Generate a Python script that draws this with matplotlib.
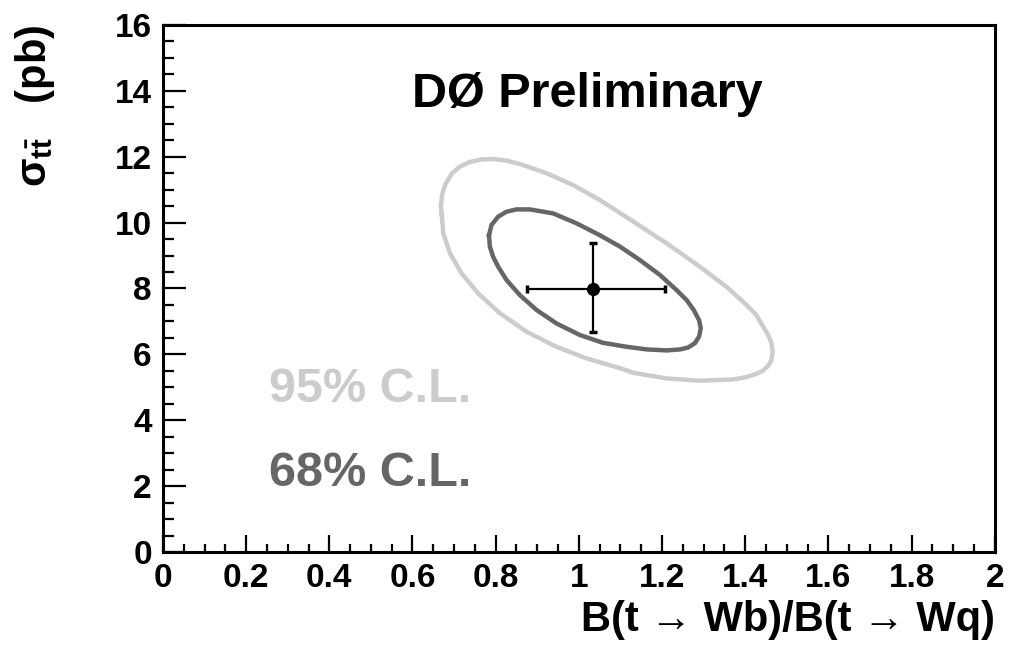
import matplotlib
matplotlib.use('Agg')
import matplotlib.pyplot as plt
from matplotlib.ticker import MultipleLocator

plt.rcParams['font.family'] = ['Liberation Sans', 'DejaVu Sans']
plt.rcParams['font.weight'] = 'bold'
plt.rcParams['mathtext.fontset'] = 'custom'
plt.rcParams['mathtext.rm'] = 'Liberation Sans:bold'
plt.rcParams['mathtext.it'] = 'Liberation Sans:bold'
plt.rcParams['mathtext.bf'] = 'Liberation Sans:bold'

# 68% C.L. contour
c68_x = [0.784, 0.786, 0.794, 0.806, 0.826, 0.858, 0.898, 0.946, 1.002, 1.058,
         1.115, 1.163, 1.211, 1.243, 1.263, 1.279, 1.289, 1.293, 1.289, 1.276,
         1.259, 1.235, 1.195, 1.147, 1.099, 1.050, 0.994, 0.938, 0.882, 0.850,
         0.826, 0.806, 0.790]
c68_y = [9.62, 9.27, 8.96, 8.66, 8.26, 7.80, 7.35, 6.94, 6.59, 6.35,
         6.23, 6.15, 6.12, 6.15, 6.21, 6.34, 6.54, 6.79, 7.04, 7.35,
         7.65, 7.95, 8.41, 8.86, 9.27, 9.62, 9.98, 10.28, 10.40, 10.40,
         10.33, 10.18, 9.93]

# 95% C.L. contour
c95_x = [0.670, 0.674, 0.690, 0.718, 0.758, 0.810, 0.874, 0.946, 1.018, 1.099,
         1.131, 1.211, 1.291, 1.371, 1.399, 1.423, 1.442, 1.455, 1.463, 1.466,
         1.463, 1.455, 1.443, 1.427, 1.403, 1.355, 1.291, 1.211, 1.131, 1.050,
         0.986, 0.922, 0.858, 0.826, 0.794, 0.766, 0.738, 0.714, 0.694, 0.680,
         0.672, 0.668]
c95_y = [10.28, 9.68, 9.07, 8.46, 7.85, 7.25, 6.69, 6.23, 5.88, 5.58,
         5.44, 5.27, 5.20, 5.24, 5.30, 5.39, 5.50, 5.65, 5.83, 6.08,
         6.34, 6.59, 6.84, 7.19, 7.50, 8.05, 8.66, 9.37, 10.03, 10.69,
         11.14, 11.50, 11.78, 11.88, 11.93, 11.92, 11.84, 11.70, 11.48, 11.19,
         10.89, 10.53]

# central value with errors
best_x = 1.034
best_y = 7.97
x_err_lo, x_err_hi = 0.159, 0.173
y_err_lo, y_err_hi = 1.29, 1.42

light = '#cccccc'
dark = '#666666'

fig = plt.figure(figsize=(10.12, 6.56), dpi=100)
ax = fig.add_axes([0.161, 0.1585, 0.822, 0.8035])

ax.plot(c95_x + c95_x[:1], c95_y + c95_y[:1], color=light, lw=3.2, solid_joinstyle='round')
ax.plot(c68_x + c68_x[:1], c68_y + c68_y[:1], color=dark, lw=3.2, solid_joinstyle='round')

ax.errorbar([best_x], [best_y], xerr=[[x_err_lo], [x_err_hi]], yerr=[[y_err_lo], [y_err_hi]],
            fmt='o', color='black', ms=8.5, elinewidth=1.6, capsize=3, capthick=2.5)

ax.set_xlim(0, 2)
ax.set_ylim(0, 16)
ax.xaxis.set_major_locator(MultipleLocator(0.2))
ax.xaxis.set_minor_locator(MultipleLocator(0.05))
ax.yaxis.set_major_locator(MultipleLocator(2))
ax.yaxis.set_minor_locator(MultipleLocator(0.5))
ax.xaxis.set_major_formatter(plt.FuncFormatter(lambda v, p: f'{v:g}'))
ax.tick_params(axis='both', which='both', direction='in', top=False, right=False,
               labelsize=24, width=1.6)
ax.tick_params(axis='x', which='major', length=12.5, pad=8)
ax.tick_params(axis='x', which='minor', length=6)
ax.tick_params(axis='y', which='major', length=16.5, pad=8)
ax.tick_params(axis='y', which='minor', length=8)
for s in ax.spines.values():
    s.set_linewidth(2.2)

ax.text(0.51, 0.845, 'DØ Preliminary', transform=ax.transAxes, fontsize=35,
        ha='center', va='baseline')
ax.text(0.127, 0.285, '95% C.L.', transform=ax.transAxes, fontsize=35, color=light,
        va='baseline')
ax.text(0.127, 0.125, '68% C.L.', transform=ax.transAxes, fontsize=35, color=dark,
        va='baseline')

fig.text(0.983, 0.038, 'B(t → Wb)/B(t → Wq)', fontsize=30,
         ha='right', va='baseline')
fig.text(0.035, 0.962, r'$\sigma_{t\bar{t}}$   (pb)', fontsize=30, rotation=90,
         ha='center', va='top')

fig.savefig('out.png', dpi=100, facecolor='white')
